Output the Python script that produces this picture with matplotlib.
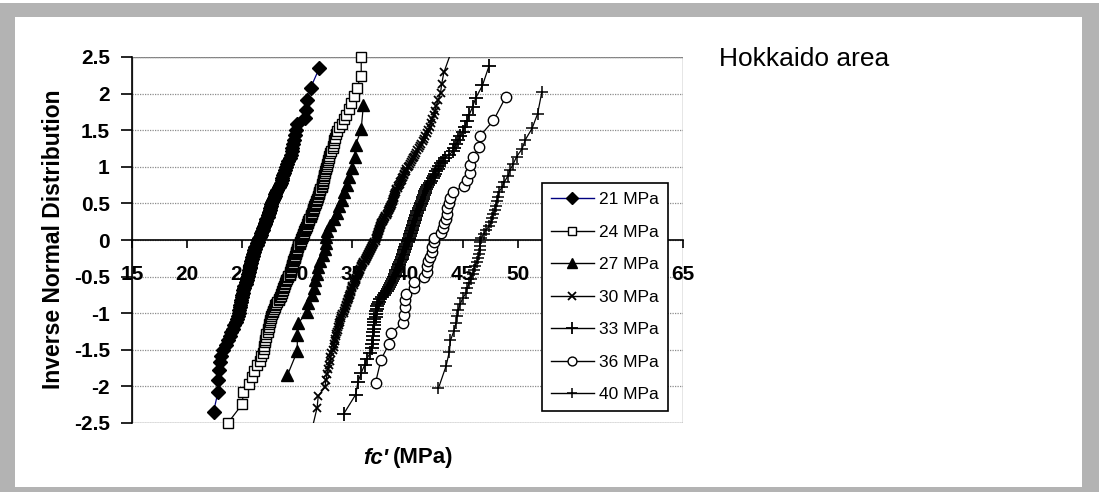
import matplotlib
matplotlib.use("Agg")
import matplotlib.pyplot as plt
from matplotlib.lines import Line2D
from matplotlib.patches import Rectangle
from statistics import NormalDist

plt.rcParams["font.family"] = ["Liberation Sans", "DejaVu Sans"]

# sorted compressive strengths fc' (MPa) for each nominal strength class
fc_21 = [22.4, 22.8, 22.8, 22.9, 23.0, 23.1, 23.3, 23.5, 23.7, 23.9, 24.0, 24.2, 24.3, 24.4, 24.5, 24.6, 24.7,
         24.7, 24.8, 24.8, 24.9, 24.9, 25.0, 25.0,
         25.1, 25.1, 25.2, 25.2, 25.3, 25.3, 25.4, 25.4, 25.5,
         25.5, 25.6, 25.6, 25.7, 25.7, 25.7, 25.8, 25.8, 25.9, 25.9,
         26.0, 26.0, 26.1, 26.1, 26.2, 26.2, 26.3, 26.3, 26.4, 26.4,
         26.5, 26.6, 26.7, 26.7, 26.8, 26.9, 26.9, 27.0, 27.1, 27.1,
         27.2, 27.2, 27.3, 27.3, 27.4, 27.4, 27.5, 27.5, 27.6, 27.6,
         27.7, 27.8, 27.9, 28.0, 28.0, 28.1, 28.2, 28.3, 28.4,
         28.5, 28.6, 28.6, 28.7, 28.8, 28.9, 29.0,
         29.1, 29.2, 29.3, 29.4, 29.5, 29.5,
         29.6, 29.7, 29.8, 29.9,
         30.0, 30.7, 30.8, 30.9, 31.2, 32.0]

fc_24 = [23.7, 25.0, 25.1, 25.6, 25.9, 26.1, 26.3, 26.6, 26.7, 26.9, 27.0, 27.0, 27.1, 27.1, 27.2, 27.2, 27.3,
         27.3, 27.4, 27.4, 27.5, 27.5, 27.6, 27.6, 27.7,
         27.8, 27.8, 27.9, 28.0, 28.0, 28.1, 28.2, 28.3, 28.3, 28.4, 28.5,
         28.5, 28.6, 28.6, 28.7, 28.7, 28.8, 28.8, 28.9, 28.9, 29.0, 29.0, 29.1, 29.2,
         29.2, 29.3, 29.3, 29.3, 29.4, 29.4, 29.4, 29.5, 29.5, 29.5, 29.6, 29.6, 29.6, 29.7, 29.7,
         29.8, 29.8, 29.8, 29.9, 29.9, 29.9, 30.0, 30.0, 30.0, 30.1, 30.1, 30.1, 30.2, 30.2, 30.2, 30.3,
         30.3, 30.4, 30.4, 30.5, 30.5, 30.5, 30.6, 30.6, 30.7, 30.7, 30.8, 30.8, 30.9, 30.9, 31.0, 31.0,
         31.0, 31.1, 31.1, 31.2, 31.2, 31.2, 31.3, 31.3, 31.4, 31.4, 31.4, 31.5, 31.5, 31.6, 31.6,
         31.7, 31.7, 31.8, 31.8, 31.9, 31.9, 32.0, 32.0, 32.0, 32.1, 32.1, 32.2, 32.2,
         32.2, 32.3, 32.3, 32.3, 32.4, 32.4, 32.4, 32.5, 32.5, 32.6, 32.6,
         32.7, 32.7, 32.8, 32.8, 32.9, 32.9, 33.0, 33.1,
         33.2, 33.2, 33.3, 33.3, 33.4, 33.5, 33.6, 33.8, 34.1, 34.2, 34.4, 34.7, 34.9, 35.1, 35.4, 35.8, 35.8]

fc_27 = [29.1, 30.0, 30.0, 30.1, 30.9, 31.0, 31.3, 31.5, 31.6, 31.8, 31.9, 32.1, 32.3, 32.5, 32.6,
         32.6, 32.7, 33.0, 33.3, 33.6, 33.8, 34.1, 34.2, 34.5, 34.7, 35.0, 35.2, 35.3, 35.8, 36.0]

fc_30 = [31.4, 31.8, 31.9, 32.5, 32.6, 32.7, 32.8, 32.9, 33.0, 33.0, 33.1, 33.2,
         33.3, 33.3, 33.4, 33.4, 33.5, 33.5, 33.6,
         33.7, 33.7, 33.8, 33.8, 33.9, 33.9, 34.0, 34.0, 34.1, 34.2,
         34.2, 34.3, 34.3, 34.4, 34.4, 34.5, 34.5, 34.6, 34.6, 34.7, 34.7, 34.8,
         34.8, 34.9, 34.9, 34.9, 35.0, 35.0, 35.0, 35.1, 35.1, 35.2, 35.2, 35.3, 35.3, 35.3, 35.4,
         35.4, 35.5, 35.5, 35.6, 35.6, 35.7, 35.7, 35.8, 35.8, 35.9, 35.9, 36.0, 36.0, 36.1, 36.1, 36.2, 36.2,
         36.3, 36.3, 36.4, 36.4, 36.5, 36.5, 36.6, 36.6, 36.7, 36.7, 36.8, 36.8, 36.9, 36.9, 37.0, 37.0, 37.1,
         37.1, 37.1, 37.2, 37.2, 37.2, 37.3, 37.3, 37.3, 37.4, 37.4, 37.4, 37.5, 37.5, 37.5, 37.6, 37.6, 37.6, 37.7,
         37.8, 37.8, 37.9, 37.9, 38.0, 38.0, 38.1, 38.1, 38.2, 38.2, 38.3, 38.3, 38.4, 38.4, 38.5, 38.5, 38.6,
         38.6, 38.7, 38.7, 38.7, 38.8, 38.8, 38.8, 38.9, 38.9, 39.0, 39.0, 39.0, 39.1, 39.1, 39.2,
         39.3, 39.3, 39.4, 39.5, 39.5, 39.6, 39.7, 39.7, 39.8, 39.9, 39.9, 40.0,
         40.1, 40.2, 40.3, 40.4, 40.5, 40.6, 40.7, 40.8, 40.9, 41.0,
         41.1, 41.2, 41.4, 41.5, 41.6, 41.8, 41.9,
         42.0, 42.1, 42.2, 42.4, 42.5, 42.6, 42.8, 43.0, 43.1, 43.3, 43.9]

fc_33 = [34.2, 35.3, 35.5, 35.8, 36.1, 36.3, 36.6,
         36.8, 36.8, 36.9, 36.9, 36.9, 37.0, 37.0, 37.0, 37.0, 37.1, 37.1, 37.1, 37.2, 37.2, 37.3, 37.4,
         37.5, 37.7, 37.9,
         38.0, 38.1, 38.2, 38.3, 38.4, 38.5, 38.6, 38.7, 38.8,
         38.9, 38.9, 39.0, 39.0, 39.1, 39.1, 39.2, 39.2, 39.3, 39.4, 39.5,
         39.5, 39.6, 39.6, 39.7, 39.7, 39.8, 39.8, 39.9, 39.9, 40.0, 40.0,
         40.1, 40.1, 40.2, 40.2, 40.3, 40.3, 40.4, 40.4, 40.5, 40.5, 40.6, 40.6,
         40.7, 40.7, 40.8, 40.8, 40.9, 40.9, 41.0, 41.0, 41.1, 41.2,
         41.2, 41.3, 41.4, 41.4, 41.5, 41.6, 41.6, 41.7, 41.8, 41.9,
         42.0, 42.1, 42.3, 42.4, 42.5, 42.6, 42.8,
         42.9, 43.0, 43.2, 43.4, 43.8, 44.1, 44.2, 44.4, 44.6, 44.8, 45.0, 45.2, 45.4, 45.6, 45.9, 46.2,
         46.8, 47.4]

fc_36 = [37.1, 37.6, 38.3, 38.5, 39.6, 39.7, 39.8, 39.8, 39.9, 40.6, 40.6, 41.5, 41.8, 41.8, 41.9,
         42.0, 42.2, 42.2, 42.4, 42.4, 43.0, 43.2, 43.3, 43.5, 43.6, 43.6, 43.8, 43.9, 44.1, 45.1,
         45.4, 45.7, 45.7, 45.9, 46.5, 46.6, 47.8, 48.9]

fc_40 = [42.8, 43.5, 43.8, 43.9, 44.2, 44.4, 44.5, 44.6, 44.8, 45.0, 45.3, 45.4, 45.6, 45.8, 45.9,
         46.0, 46.1, 46.3, 46.4, 46.5, 46.6, 46.6, 46.6, 46.7, 46.9, 47.1, 47.4, 47.6, 47.7, 47.8,
         47.9, 48.0, 48.1, 48.2, 48.3, 48.6, 48.8, 49.1, 49.3, 49.6, 49.9, 50.4, 50.7, 51.3, 51.8, 52.2]

labels = ["21 MPa", "24 MPa", "27 MPa", "30 MPa", "33 MPa", "36 MPa", "40 MPa"]
series = [fc_21, fc_24, fc_27, fc_30, fc_33, fc_36, fc_40]

x_ticks = [15, 20, 25, 30, 35, 40, 45, 50, 55, 60, 65]
y_ticks = [-2.5, -2, -1.5, -1, -0.5, 0, 0.5, 1, 1.5, 2, 2.5]

# marker style per class: (line colour, marker, size, face colour, edge width)
styles = [
    ("#000080", "D", 6.8, "black", 1.0),
    ("black", "s", 7.0, "white", 1.0),
    ("black", "^", 8.0, "black", 1.0),
    ("black", "x", 6.0, "black", 1.3),
    ("black", "+", 9.5, "black", 1.3),
    ("black", "o", 7.5, "white", 1.0),
    ("black", "+", 8.5, "black", 1.1),
]


def normal_scores(n):
    # inverse normal of plotting position i/(n+1)
    nd = NormalDist()
    return [nd.inv_cdf(i / (n + 1)) for i in range(1, n + 1)]


W, H = 1099, 492
fig = plt.figure(figsize=(W / 100, H / 100), dpi=100)
fig.patch.set_facecolor("white")
fig.patches.append(Rectangle((0, 0), 1, 489 / H, transform=fig.transFigure,
                             facecolor="#b3b3b3", edgecolor="none", zorder=-2))
fig.patches.append(Rectangle((15 / W, 5 / H), (1082 - 15) / W, (487 - 17) / H,
                             transform=fig.transFigure, facecolor="white",
                             edgecolor="none", zorder=-1))

ax = fig.add_axes([132 / W, (H - 423) / H, (683 - 132) / W, (423 - 57) / H])
ax.set_facecolor("none")
ax.set_xlim(15, 65)
ax.set_ylim(-2.5, 2.5)

for fc, (lc, mk, ms, mfc, mew) in zip(series, styles):
    z = normal_scores(len(fc))
    ax.plot(fc, z, color=lc, lw=0.9, zorder=3)
    inside = [(a, b) for a, b in zip(fc, z) if -2.5 <= b <= 2.5]
    ax.plot([p[0] for p in inside], [p[1] for p in inside], ls="none", marker=mk,
            ms=ms, mfc=mfc, mec="black", mew=mew, zorder=3, clip_on=False)

# plot-area frame and gridlines
ax.add_patch(Rectangle((0, 0), 1, 1, transform=ax.transAxes, fill=False,
                       edgecolor="#808080", lw=1.0, zorder=1))
for yv in y_ticks:
    ax.axhline(yv, color="#8c8c8c", lw=0.9, ls=(0, (1, 1)), zorder=1)

for side in ("top", "right"):
    ax.spines[side].set_visible(False)
ax.spines["left"].set_color("black")
ax.spines["left"].set_linewidth(1.2)
ax.spines["bottom"].set_position(("data", 0))
ax.spines["bottom"].set_color("black")
ax.spines["bottom"].set_linewidth(1.2)

ax.set_xticks(x_ticks)
ax.set_xticklabels([str(v) for v in x_ticks], fontweight="bold", fontsize=15)
ax.set_yticks(y_ticks)
ax.set_yticklabels([("%g" % v) for v in y_ticks], fontweight="bold", fontsize=15)
ax.tick_params(axis="x", direction="out", length=6, width=1.2, pad=12)
ax.tick_params(axis="y", direction="out", length=8, width=1.2, pad=8)

# 55 and 60 sit behind the legend box
for lbl in ax.get_xticklabels():
    if lbl.get_text() in ("55", "60"):
        lbl.set_visible(False)

fig.text(54 / W, (H - 239) / H, "Inverse Normal Distribution", rotation=90,
         ha="center", va="center", fontsize=16.5, fontweight="bold")
fig.text(388 / W, (H - 458) / H, "fc'", ha="right", va="center",
         fontsize=16, fontweight="bold", fontstyle="italic")
fig.text(393 / W, (H - 458) / H, "(MPa)", ha="left", va="center",
         fontsize=16, fontweight="bold")
fig.text(719 / W, (H - 66) / H, "Hokkaido area", ha="left", va="baseline", fontsize=19)

handles = [Line2D([], [], color=lc, lw=1.0, marker=mk, ms=ms * 0.85, mfc=mfc, mec="black", mew=mew)
           for (lc, mk, ms, mfc, mew) in styles]
leg = ax.legend(handles, labels, loc="upper left", bbox_to_anchor=(542 / W, (H - 183) / H),
                bbox_transform=fig.transFigure, borderaxespad=0, fontsize=12.5,
                frameon=True, fancybox=False, edgecolor="black", framealpha=1,
                handlelength=2.45, handletextpad=0.3, labelspacing=1.0, borderpad=0.52)
leg.get_frame().set_linewidth(1.2)
leg.set_zorder(5)

fig.savefig("out.png", dpi=100)
